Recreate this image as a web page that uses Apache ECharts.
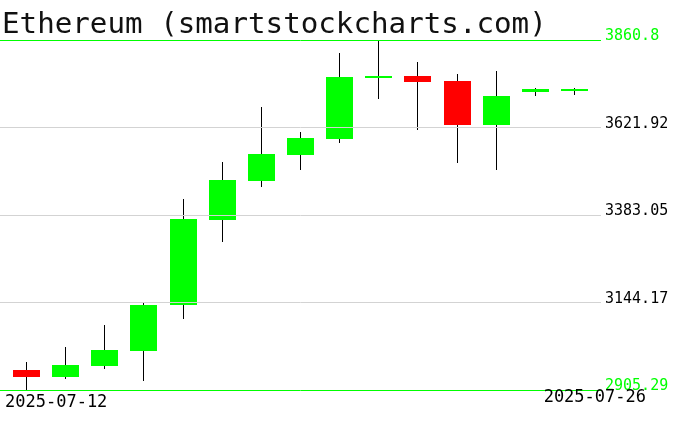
<!DOCTYPE html>
<html><head><meta charset="utf-8">
<script src="https://cdn.jsdelivr.net/npm/echarts@6/dist/echarts.min.js"></script>
<style>html,body{margin:0;padding:0;background:#fff}#c{width:676px;height:431px}</style>
</head><body><div id="c"></div>
<script>
const titleText = 'Ethereum (smartstockcharts.com)';
const dates = ['2025-07-12','2025-07-13','2025-07-14','2025-07-15','2025-07-16','2025-07-17','2025-07-18','2025-07-19','2025-07-20','2025-07-21','2025-07-22','2025-07-23','2025-07-24','2025-07-25','2025-07-26'];
const opens  = [2959.9, 2941.6, 2971.6, 3012.6, 3137.3, 3369.4, 3475.9, 3546.8, 3590.5, 3757.5, 3762.5, 3748.9, 3628.8, 3719.7, 3726.8];
const closes = [2941.6, 2973.5, 3014.5, 3137.3, 3372.1, 3478.6, 3549.6, 3593.3, 3759.8, 3762.5, 3746.1, 3628.8, 3707.9, 3727.0, 3727.4];
const lows   = [2905.29, 2936.1, 2963.4, 2930.7, 3099.9, 3310.2, 3460.3, 3505.9, 3580.4, 3700.5, 3615.9, 3525.8, 3506.7, 3708.7, 3711.5];
const highs  = [2981.7, 3023.5, 3082.7, 3142.0, 3426.7, 3527.7, 3677.9, 3609.6, 3826.1, 3860.8, 3800.7, 3768.8, 3776.2, 3730.6, 3730.6];
const tickValues = [2905.29, 3144.17, 3383.05, 3621.92, 3860.8];
const tickLabels = ['2905.29', '3144.17', '3383.05', '3621.92', '3860.8'];

const yMin = tickValues[0], yMax = tickValues[tickValues.length - 1];
const GREEN = '#00ff00', RED = '#ff0000';
const ohlc = dates.map((d, i) => [i, opens[i], closes[i], lows[i], highs[i]]);
const mono = 'DejaVu Sans Mono';

function renderCandle(params, api) {
  const i = api.value(0);
  const o = api.value(1), c = api.value(2), l = api.value(3), h = api.value(4);
  const pO = api.coord([i, o]), pC = api.coord([i, c]);
  const pL = api.coord([i, l]), pH = api.coord([i, h]);
  const cx = Math.floor(pO[0]) + 0.5;
  let yTop = Math.round(Math.min(pO[1], pC[1]));
  let yBot = Math.round(Math.max(pO[1], pC[1]));
  if (yBot - yTop < 2) yBot = yTop + 2;
  const half = 13;
  return {
    type: 'group',
    children: [
      {type: 'line', shape: {x1: cx, y1: Math.round(pH[1]), x2: cx, y2: Math.round(pL[1])},
       style: {stroke: '#000', lineWidth: 1}},
      {type: 'rect', shape: {x: cx - 0.5 - half, y: yTop, width: half * 2 + 1, height: yBot - yTop},
       style: {fill: c >= o ? GREEN : RED}}
    ]
  };
}

const chart = echarts.init(document.getElementById('c'), null, {renderer: 'canvas'});
chart.setOption({
  animation: false,
  backgroundColor: '#fff',
  title: {
    text: titleText, left: 2, top: 11, padding: 0,
    textStyle: {fontFamily: mono, fontSize: 29.2, fontWeight: 'normal', color: '#111'}
  },
  grid: [
    {left: 7, right: 82, top: 40, bottom: 41},
    {left: 0, right: 75, top: 40, bottom: 41}
  ],
  xAxis: [
    {type: 'category', gridIndex: 0, data: dates, boundaryGap: true, show: false},
    {type: 'value', gridIndex: 1, min: 0, max: 1, show: false}
  ],
  yAxis: [
    {type: 'value', gridIndex: 0, min: yMin, max: yMax, show: false, splitLine: {show: false}},
    {
      type: 'value', gridIndex: 1, position: 'right', min: yMin, max: yMax, z: 10,
      axisLine: {show: false},
      axisTick: {show: false, customValues: tickValues},
      axisLabel: {
        customValues: tickValues,
        margin: 4,
        fontFamily: mono, fontSize: 15, verticalAlign: 'bottom', lineHeight: 7,
        formatter: v => {
          let i = 0, best = Infinity;
          tickValues.forEach((t, k) => { const d = Math.abs(t - v); if (d < best) { best = d; i = k; } });
          return (i === 0 || i === tickValues.length - 1) ? '{g|' + tickLabels[i] + '}' : '{k|' + tickLabels[i] + '}';
        },
        rich: {
          g: {color: GREEN, fontFamily: mono, fontSize: 15, lineHeight: 7},
          k: {color: '#000', fontFamily: mono, fontSize: 15, lineHeight: 7}
        }
      },
      splitLine: {show: true, lineStyle: {width: 1, color: tickValues.map((v, k) => (k === 0 || k === tickValues.length - 1) ? GREEN : '#d3d3d3')}}
    }
  ],
  graphic: [
    {type: 'text', left: 5, top: 394, z: 20, style: {text: dates[0], font: '17px "DejaVu Sans Mono"', fill: '#000'}},
    {type: 'text', right: 30, top: 389, z: 20, style: {text: dates[dates.length - 1], font: '17px "DejaVu Sans Mono"', fill: '#000'}}
  ],
  series: [
    {
      type: 'custom', xAxisIndex: 0, yAxisIndex: 0, data: ohlc,
      encode: {x: 0, y: [1, 2, 3, 4]},
      renderItem: renderCandle, silent: true, clip: false, z: 2
    }
  ]
});
</script>
</body></html>
